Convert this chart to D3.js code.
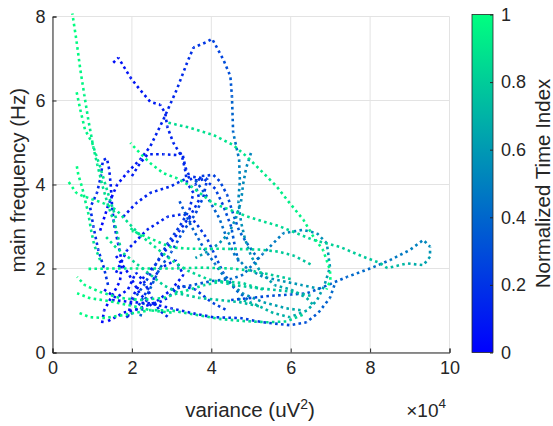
<!DOCTYPE html>
<html lang="en">
  <head>
    <meta charset="UTF-8" />
    <title>main frequency vs variance</title>
    <style>
      body { margin: 0; background: #fff; }
      text { font-family: "Liberation Sans", Arial, Helvetica, sans-serif; fill: #262626; }
    </style>
  </head>
  <body>
    <svg width="553" height="426" xmlns="http://www.w3.org/2000/svg"></svg>
  </body>
  <script src="https://cdn.jsdelivr.net/npm/d3@7"></script>
  <script>
    // each point: [variance (x1e4), main frequency (Hz), normalized time index]
    const s1 = [[1.53,6.9,.05],[1.66,7.02,.06],[1.96,6.55,.08],[2.2,6.26,.09],[2.46,5.97,.1],[2.71,5.9,.11],[2.84,5.7,.12],[2.89,5.38,.13],[3.04,5.0,.14],[3.27,4.64,.15],[3.34,4.35,.16],[3.39,4.04,.17],[3.55,3.8,.18],[3.45,3.4,.2],[3.2,3.0,.22],[2.9,2.6,.24],[2.6,2.1,.25],[2.3,1.6,.27],[2.0,1.2,.3]];
    const s2 = [[1.2,2.9,.02],[1.4,3.5,.04],[1.63,4.0,.06],[1.9,4.3,.08],[2.21,4.6,.1],[2.46,4.9,.12],[2.79,5.54,.14],[3.13,6.26,.16],[3.39,6.9,.18],[3.55,7.26,.2],[3.9,7.4,.22],[4.02,7.47,.24],[4.3,6.98,.28],[4.48,6.58,.32],[4.52,6.1,.36],[4.55,5.24,.42],[4.7,4.6,.5],[4.72,4.1,.52],[4.68,3.6,.54],[4.75,3.1,.56],[4.85,2.7,.58],[5.0,2.3,.6],[5.25,1.9,.62],[5.6,1.6,.64],[6.0,1.5,.66],[6.4,1.3,.68],[6.6,1.1,.7]];
    const s3 = [[2.92,5.47,.85],[3.47,5.35,.87],[4.05,5.18,.89],[4.55,4.94,.9],[4.9,4.66,.91],[5.23,4.35,.92],[5.65,3.95,.93],[5.98,3.55,.94],[6.32,3.16,.95],[6.57,2.76,.96],[6.82,2.43,.97],[6.99,1.96,.98],[7.0,1.72,.99],[6.9,1.5,1]];
    const loopLine = [[4.5,1.25,.25],[5.0,1.3,.28],[5.5,1.35,.3],[6.0,1.38,.32],[6.41,1.41,.34],[6.82,1.56,.36],[7.42,1.8,.4],[8.0,2.0,.43],[8.5,2.2,.46],[9.0,2.44,.49],[9.34,2.68,.52],[9.51,2.52,.55],[9.51,2.28,.6],[9.34,2.08,.65],[8.93,2.12,.7],[8.43,2.01,.75],[8.25,2.13,.77],[7.83,2.28,.79],[7.25,2.51,.81],[6.57,2.68,.83],[5.73,3.0,.85],[4.9,3.24,.87],[4.05,3.55,.89],[3.5,3.95,.91],[3.13,4.15,.93],[2.79,4.27,.95],[2.46,4.51,.97],[2.2,4.75,.99],[1.96,4.99,1]];
    const g1 = [[1.7,2.55,.8],[1.58,3.03,.83],[1.4,3.5,.86],[1.25,4.0,.88],[1.13,4.47,.9],[1.03,4.88,.92],[0.9,5.55,.94],[0.8,6.14,.96],[0.7,6.74,.97],[0.6,7.45,.99],[0.5,8.07,1]];
    const g2 = [[1.6,3.2,.82],[1.45,3.63,.85],[1.3,4.1,.88],[1.2,4.42,.9],[1.1,4.7,.92],[1.0,4.99,.94],[0.82,5.3,.96],[0.7,5.78,.98],[0.6,6.24,1]];
    const g3 = [[1.2,2.2,.85],[1.05,2.56,.88],[0.97,2.92,.9],[0.9,3.32,.92],[0.82,3.63,.94],[0.75,3.92,.96],[0.65,4.23,.98],[0.6,4.51,1]];
    const g4 = [[2.2,2.8,.85],[1.9,3.1,.87],[1.6,3.4,.9],[1.3,3.55,.93],[1.0,3.65,.95],[0.75,3.73,.97],[0.6,3.8,.98],[0.4,4.07,1]];
    const g5 = [[5.3,1.5,.8],[4.8,1.65,.82],[4.3,1.7,.84],[3.8,1.6,.86],[3.3,1.45,.88],[2.8,1.3,.9],[2.2,1.25,.92],[1.7,1.3,.94],[1.2,1.44,.96],[0.82,1.6,.98],[0.62,1.8,1]];
    const g6 = [[3.0,0.95,.9],[2.5,1.0,.92],[1.96,1.12,.94],[1.33,1.24,.96],[0.95,1.29,.98],[0.62,1.41,1]];
    const g7 = [[6.3,0.9,.82],[5.9,0.74,.83],[5.4,0.72,.84],[4.8,0.75,.85],[4.2,0.8,.86],[3.6,0.9,.88],[3.0,1.0,.9],[2.46,1.01,.92],[1.83,0.9,.94],[1.33,0.82,.96],[0.95,0.84,.98],[0.62,0.96,1]];
    const g8 = [[5.2,1.1,.72],[4.7,1.2,.74],[4.2,1.25,.76],[3.7,1.3,.78],[3.2,1.4,.8],[2.8,1.6,.82],[2.4,1.9,.84],[2.0,2.2,.86],[1.6,2.5,.88],[1.3,2.8,.9]];
    const m1 = [[6.5,1.35,.72],[6.0,1.45,.74],[5.5,1.5,.76],[5.0,1.55,.78],[4.5,1.62,.8],[3.9,1.75,.82],[3.4,1.95,.84],[3.0,2.2,.86],[2.6,2.5,.88],[2.2,2.8,.9],[1.9,3.0,.92]];
    const m2 = [[6.0,1.75,.78],[5.5,1.85,.8],[5.0,1.95,.83],[4.5,2.0,.85],[3.8,2.02,.87],[3.0,2.0,.89],[2.2,2.0,.91],[1.5,2.0,.93],[0.87,1.99,.95]];
    const m3 = [[6.5,2.1,.76],[6.1,2.3,.78],[5.7,2.4,.8],[5.23,2.45,.83],[4.8,2.46,.85],[4.2,2.47,.87],[3.5,2.47,.89],[3.0,2.5,.91],[2.5,2.7,.93],[2.0,2.9,.95]];
    const rightLoop = [[3.0,1.5,.3],[3.5,1.6,.33],[4.0,1.7,.36],[4.5,1.75,.4],[4.8,1.85,.43],[5.3,2.35,.47],[5.81,2.84,.5],[6.3,2.92,.53],[6.66,2.84,.56],[6.91,2.6,.58],[6.99,2.03,.6],[6.85,1.6,.62],[6.66,1.24,.64],[6.41,1.0,.66],[5.98,0.84,.68],[5.56,0.94,.7],[5.1,1.15,.72],[4.6,1.3,.74]];
    const bottomBlue = [[1.5,1.25,.05],[2.0,1.2,.08],[2.46,1.17,.1],[3.0,1.05,.13],[3.6,0.92,.16],[4.05,0.84,.18],[4.73,0.82,.22],[5.3,0.72,.26],[5.98,0.65,.3],[6.4,0.72,.33],[6.7,0.95,.36],[6.99,1.3,.4],[7.1,1.6,.42]];
    const b1 = [[1.25,0.7,.03],[1.3,1.0,.04],[1.5,1.35,.05],[1.7,1.7,.06],[1.75,2.15,.07],[1.65,2.6,.08],[1.55,3.05,.09],[1.5,3.5,.1],[1.47,3.95,.11],[1.43,4.35,.12],[1.37,4.62,.13],[1.27,4.58,.14],[1.22,4.2,.15],[1.12,3.8,.16],[0.95,3.45,.17],[1.03,3.0,.18],[1.15,2.45,.19],[1.3,2.0,.2],[1.4,1.6,.21]];
    const b2 = [[1.9,0.85,.05],[2.0,1.3,.07],[2.3,1.8,.09],[2.6,2.1,.1],[2.9,2.5,.12],[3.2,2.9,.14],[3.5,3.3,.16],[3.7,3.65,.18],[3.6,4.0,.2],[3.75,4.2,.22],[4.05,4.23,.24],[4.22,4.07,.26],[4.4,3.75,.3],[4.55,3.3,.33],[4.7,2.9,.36],[4.9,2.6,.4],[5.2,2.2,.44]];
    const b3 = [[1.78,3.23,.1],[2.1,3.55,.12],[2.46,3.8,.14],[2.96,3.95,.16],[3.47,4.19,.18],[3.8,4.15,.2],[4.1,3.9,.24],[4.3,3.5,.28],[4.5,3.0,.32],[4.6,2.5,.36],[4.7,2.1,.4]];
    const b4 = [[1.6,1.9,.08],[1.88,2.44,.1],[2.38,2.92,.12],[2.89,3.23,.14],[3.3,3.3,.16],[3.6,3.1,.2],[3.9,2.7,.24],[4.1,2.3,.28],[4.3,1.9,.32],[4.6,1.5,.36],[5.0,1.2,.4]];
    const b5 = [[2.0,4.2,.1],[2.2,4.5,.11],[2.4,4.72,.12],[2.8,4.72,.13],[3.13,4.7,.14],[3.27,4.75,.15],[3.35,4.4,.16],[3.5,4.1,.18],[3.7,4.1,.2],[3.9,4.15,.22],[3.8,3.7,.25],[3.6,3.3,.28],[3.3,2.9,.3],[3.0,2.4,.32],[2.7,2.0,.34],[2.5,1.6,.36],[2.3,1.2,.38],[2.2,0.8,.4]];
    const b6 = [[1.3,1.5,.05],[1.6,1.3,.07],[1.9,1.5,.09],[2.1,1.9,.1],[2.3,1.7,.12],[2.5,1.3,.14],[2.7,1.0,.16],[2.9,0.85,.18]];
    const b7 = [[1.4,0.75,.02],[1.8,0.95,.04],[2.2,1.05,.06],[2.6,1.2,.08],[3.0,1.5,.1],[3.3,1.85,.12],[3.1,2.2,.14],[2.7,2.0,.16],[2.4,1.5,.18],[2.1,1.0,.2],[1.8,0.8,.22]];
    const b8 = [[1.6,2.3,.06],[1.9,1.9,.08],[2.2,1.4,.1],[2.5,1.1,.12],[2.9,1.3,.14],[3.2,1.6,.16],[3.6,1.5,.2],[4.0,1.2,.24],[4.4,1.0,.28]];
    const c1 = [[3.6,4.1,.3],[3.9,3.7,.35],[4.2,3.2,.4],[4.4,2.7,.45],[4.6,2.3,.5],[4.9,2.0,.52],[5.3,1.8,.55],[5.8,1.7,.58],[6.3,1.6,.6],[6.8,1.5,.62]];
    const c2 = [[3.2,3.6,.3],[3.5,3.0,.35],[3.8,2.5,.4],[4.1,2.1,.45],[4.4,1.7,.5],[4.8,1.4,.55],[5.3,1.2,.6],[5.9,1.05,.65],[6.3,1.0,.68]];
    const tealV = [[5.0,4.75,.52],[4.88,4.4,.53],[4.8,4.0,.54],[4.75,3.6,.55],[4.62,3.2,.56],[4.45,2.85,.57],[4.2,2.6,.58],[3.9,2.4,.6],[3.6,2.25,.62]];

    const trajectories = [b1, b2, b3, b4, b5, b6, b7, b8, bottomBlue, s1, s2, c1, c2, tealV, rightLoop, loopLine,
      m1, m2, m3, g5, g6, g7, g8, g1, g2, g3, g4, s3];

    const xTicks = [0, 2, 4, 6, 8, 10];
    const yTicks = [0, 2, 4, 6, 8];
    const cTicks = [0, 0.2, 0.4, 0.6, 0.8, 1];

    const axisColor = "#262626";
    const gridColor = "#e3e3e3";
    // matlab "winter"
    const winter = t => d3.rgb(0, Math.round(255 * t), Math.round(255 * (1 - 0.5 * t))).toString();

    const svg = d3.select("svg");
    const x = d3.scaleLinear().domain([0, 10]).range([52.5, 449.5]);
    const y = d3.scaleLinear().domain([0, 8]).range([352.5, 16.5]);

    // grid
    const grid = svg.append("g");
    grid.selectAll(".gx").data(xTicks).join("line")
      .attr("x1", d => x(d)).attr("x2", d => x(d))
      .attr("y1", y(0)).attr("y2", y(8))
      .attr("stroke", gridColor).attr("stroke-width", 1);
    grid.selectAll(".gy").data(yTicks).join("line")
      .attr("x1", x(0)).attr("x2", x(10))
      .attr("y1", d => y(d)).attr("y2", d => y(d))
      .attr("stroke", gridColor).attr("stroke-width", 1);

    // dotted trajectories, coloured segment by segment
    const plot = svg.append("g");
    trajectories.forEach(tr => {
      const pts = tr.map(d => [x(d[0]), y(d[1]), d[2]]);
      let len = 0;
      for (let i = 0; i < pts.length - 1; i++) {
        const a = pts[i], b = pts[i + 1];
        plot.append("line")
          .attr("x1", a[0]).attr("y1", a[1])
          .attr("x2", b[0]).attr("y2", b[1])
          .attr("stroke", winter((a[2] + b[2]) / 2))
          .attr("stroke-width", 2.6)
          .attr("stroke-dasharray", "2.6 3.3")
          .attr("stroke-dashoffset", len);
        len += Math.hypot(b[0] - a[0], b[1] - a[1]);
      }
    });

    // axes
    const xAxis = svg.append("g").attr("transform", `translate(0,${y(0)})`)
      .call(d3.axisBottom(x).tickValues(xTicks).tickSize(-4).tickPadding(9).tickFormat(d3.format("d")));
    const yAxis = svg.append("g").attr("transform", `translate(${x(0)},0)`)
      .call(d3.axisLeft(y).tickValues(yTicks).tickSize(-4).tickPadding(7).tickFormat(d3.format("d")));
    [xAxis, yAxis].forEach(g => {
      g.select(".domain").attr("stroke", axisColor);
      g.selectAll(".tick line").attr("stroke", axisColor);
      g.selectAll("text").attr("fill", axisColor).style("font-size", "18px")
        .style("font-family", '"Liberation Sans", Arial, sans-serif');
    });
    yAxis.selectAll("text").attr("dy", "0.36em");

    // labels
    const xl = svg.append("text").attr("x", 250).attr("y", 417).attr("text-anchor", "middle")
      .style("font-size", "20.5px");
    xl.append("tspan").text("variance (uV");
    xl.append("tspan").attr("dy", -8).style("font-size", "14px").text("2");
    xl.append("tspan").attr("dy", 8).text(")");

    const ex = svg.append("text").attr("x", 446).attr("y", 417).attr("text-anchor", "end")
      .style("font-size", "19px");
    ex.append("tspan").text("\u00d710");
    ex.append("tspan").attr("dy", -9).style("font-size", "13.5px").text("4");

    svg.append("text").attr("transform", `translate(25,${y(4.1)}) rotate(-90)`)
      .attr("text-anchor", "middle").style("font-size", "20.5px").text("main frequency (Hz)");

    // colorbar
    const cb = { x: 472, w: 21 };
    const c = d3.scaleLinear().domain([0, 1]).range([352.5, 14.5]);
    const grad = svg.append("defs").append("linearGradient").attr("id", "winter")
      .attr("x1", 0).attr("y1", 1).attr("x2", 0).attr("y2", 0);
    d3.range(0, 1.001, 0.1).forEach(t => {
      grad.append("stop").attr("offset", t).attr("stop-color", winter(t));
    });
    svg.append("rect").attr("x", cb.x).attr("y", c(1)).attr("width", cb.w).attr("height", c(0) - c(1))
      .attr("fill", "url(#winter)").attr("stroke", axisColor).attr("stroke-width", 0.8);
    const cAxis = svg.append("g").attr("transform", `translate(${cb.x + cb.w},0)`)
      .call(d3.axisRight(c).tickValues(cTicks).tickSize(-3).tickPadding(8).tickFormat(d => d === 0 || d === 1 ? d3.format("d")(d) : d));
    cAxis.select(".domain").remove();
    cAxis.selectAll(".tick line").attr("stroke", axisColor);
    cAxis.selectAll("text").attr("fill", axisColor).style("font-size", "18px")
      .style("font-family", '"Liberation Sans", Arial, sans-serif');

    svg.append("text").attr("transform", `translate(550,${c(0.5)}) rotate(-90)`)
      .attr("text-anchor", "middle").style("font-size", "20.5px").text("Normalized Time Index");
  </script>
</html>
